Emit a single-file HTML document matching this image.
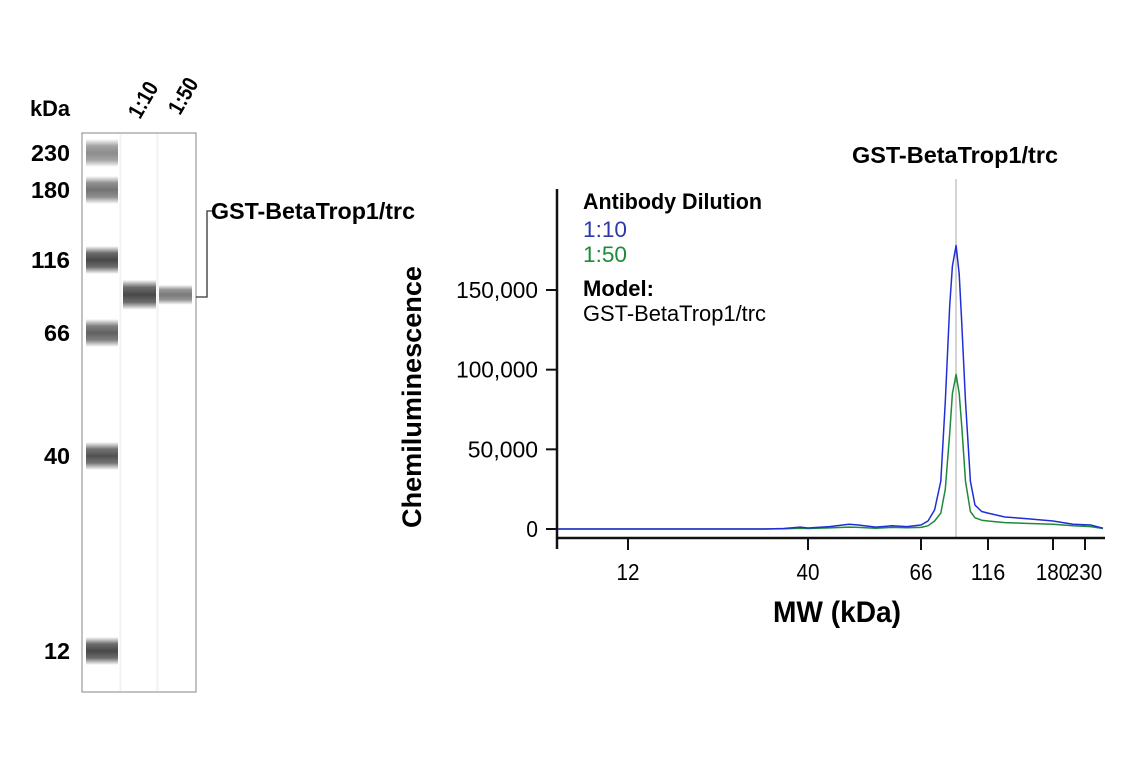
<!DOCTYPE html>
<html><head><meta charset="utf-8"><style>
body{margin:0;background:#fff;}
svg{display:block;font-family:"Liberation Sans",sans-serif;}
</style></head><body>
<svg id="fig" width="1141" height="768" viewBox="0 0 1141 768">
<defs>
<linearGradient id="bandG" x1="0" y1="0" x2="0" y2="1">
<stop offset="0" stop-color="#000" stop-opacity="0"/><stop offset="0.25" stop-color="#000" stop-opacity="0.8"/><stop offset="0.5" stop-color="#000" stop-opacity="1"/><stop offset="0.75" stop-color="#000" stop-opacity="0.8"/><stop offset="1" stop-color="#000" stop-opacity="0"/>
</linearGradient>
</defs>
<g id="gel">
<text x="30" y="116" font-size="22" font-weight="bold" textLength="40" lengthAdjust="spacingAndGlyphs">kDa</text>
<text transform="translate(140,120) rotate(-60)" font-size="22" font-weight="bold" textLength="38" lengthAdjust="spacingAndGlyphs">1:10</text>
<text transform="translate(180,116) rotate(-60)" font-size="22" font-weight="bold" textLength="38" lengthAdjust="spacingAndGlyphs">1:50</text>
<rect x="82" y="133" width="114" height="559" fill="#fff" stroke="#999" stroke-width="1.2"/>
<line x1="120.5" y1="134" x2="120.5" y2="691" stroke="#f2f2f2" stroke-width="2"/>
<line x1="157.5" y1="134" x2="157.5" y2="691" stroke="#f2f2f2" stroke-width="2"/>
<g id="ladder"></g>
<g id="samples"></g>
<polyline points="196,297 207,297 207,211 212,211" fill="none" stroke="#333" stroke-width="1.3"/>
<text x="211" y="219" font-size="23" font-weight="bold" textLength="204" lengthAdjust="spacingAndGlyphs">GST-BetaTrop1/trc</text>
</g>
<g id="chart">
<text transform="translate(421,397) rotate(-90)" text-anchor="middle" font-size="27" font-weight="bold" textLength="262" lengthAdjust="spacingAndGlyphs">Chemiluminescence</text>
<text x="837" y="622" text-anchor="middle" font-size="30" font-weight="bold" textLength="128" lengthAdjust="spacingAndGlyphs">MW (kDa)</text>
<text x="955" y="163" text-anchor="middle" font-size="23" font-weight="bold" textLength="206" lengthAdjust="spacingAndGlyphs">GST-BetaTrop1/trc</text>
<line x1="956" y1="179" x2="956" y2="538" stroke="#aaa" stroke-width="1"/>
<g id="yticks"></g>
<g id="xticks"></g>
<g id="series"></g>
<line x1="557" y1="189" x2="557" y2="549" stroke="#111" stroke-width="2.5"/>
<line x1="556" y1="538" x2="1105" y2="538" stroke="#111" stroke-width="2.5"/>
<g>
<text x="583" y="209" font-size="22" font-weight="bold" textLength="179" lengthAdjust="spacingAndGlyphs">Antibody Dilution</text>
<text x="583" y="237" font-size="22" fill="#2b3aa8" textLength="44" lengthAdjust="spacingAndGlyphs">1:10</text>
<text x="583" y="262" font-size="22" fill="#1e8a3a" textLength="44" lengthAdjust="spacingAndGlyphs">1:50</text>
<text x="583" y="296" font-size="22" font-weight="bold" textLength="71" lengthAdjust="spacingAndGlyphs">Model:</text>
<text x="583" y="321" font-size="22" textLength="183" lengthAdjust="spacingAndGlyphs">GST-BetaTrop1/trc</text>
</g>
</g>
</svg>
<script>
const NS="http://www.w3.org/2000/svg";
const ladderKDa=[230,180,116,66,40,12];
const ladderY=[153,190,260,333,456,651];
const ladderAlpha=[0.45,0.55,0.72,0.62,0.68,0.72];
const laneBand=[88.7,88.7];
const laneAlpha=[0.72,0.52];
const yTicks=[0,50000,100000,150000];
const yTickLabels=["0","50,000","100,000","150,000"];
const xTicks=[12,40,66,116,180,230];
const xTickLabels=["12","40","66","116","180","230"];
const mw=[5,20,30,34,38,40,44,48,50,54,58,62,66,70,74,78,81,84,86,88.7,91,93,96,100,104,110,116,130,150,180,210,240,300];
const blue=[0,0,0,300,1200,600,1500,3000,2500,1200,2000,1500,2500,5000,12000,30000,80000,140000,165000,178000,160000,130000,80000,30000,15000,11000,10000,7500,6500,5000,3000,2500,500];
const green=[0,0,0,100,500,300,700,1200,1000,500,1000,800,1000,2000,5000,10000,25000,60000,85000,97000,85000,65000,30000,11000,7000,5500,5000,4000,3500,3000,2000,1500,300];
function yScale(v){return 529-v*(239/150000);}
const calK=[12,40,66,116,180,230], calP=[628,808,921,988,1053,1085];
function xScale(k){const l=Math.log(k);let i=0;
 if(k<=calK[0])i=0;else if(k>=calK[calK.length-1])i=calK.length-2;else{while(k>calK[i+1])i++;}
 const a=Math.log(calK[i]),b=Math.log(calK[i+1]);return calP[i]+(l-a)/(b-a)*(calP[i+1]-calP[i]);}
function gelY(k){const l=Math.log(k);let i=0;while(i<ladderKDa.length-2&&k<ladderKDa[i+1])i++;
 const a=Math.log(ladderKDa[i]),b=Math.log(ladderKDa[i+1]);return ladderY[i]+(l-a)/(b-a)*(ladderY[i+1]-ladderY[i]);}
function narrow(t,w){t.setAttribute('textLength',w);t.setAttribute('lengthAdjust','spacingAndGlyphs');}
const lad=document.getElementById('ladder');
ladderKDa.forEach((k,i)=>{
 const r=document.createElementNS(NS,'rect');
 r.setAttribute('x',86);r.setAttribute('y',ladderY[i]-14);r.setAttribute('width',32);r.setAttribute('height',28);
 r.setAttribute('fill','url(#bandG)');r.setAttribute('opacity',ladderAlpha[i]);
 
 
 lad.appendChild(r);
 const t=document.createElementNS(NS,'text');
 t.setAttribute('x',70);t.setAttribute('y',ladderY[i]+8);t.setAttribute('text-anchor','end');
 t.setAttribute('font-size','23');t.setAttribute('font-weight','bold');t.textContent=k;
 narrow(t,String(k).length*13);
 
 
 lad.appendChild(t);
});
const sm=document.getElementById('samples');
laneBand.forEach((k,i)=>{
 const h=i===0?30:20;
 const r=document.createElementNS(NS,'rect');
 r.setAttribute('x',i===0?123:159);r.setAttribute('y',gelY(k)-h/2);r.setAttribute('width',33);r.setAttribute('height',h);
 r.setAttribute('fill','url(#bandG)');r.setAttribute('opacity',laneAlpha[i]);
 
 
 sm.appendChild(r);
});
const yt=document.getElementById('yticks');
yTicks.forEach((v,i)=>{
 const y=yScale(v);
 const l=document.createElementNS(NS,'line');
 l.setAttribute('x1',546);l.setAttribute('x2',557);l.setAttribute('y1',y);l.setAttribute('y2',y);
 l.setAttribute('stroke','#111');l.setAttribute('stroke-width','2');
 
 
 yt.appendChild(l);
 const t=document.createElementNS(NS,'text');
 t.setAttribute('x',538);t.setAttribute('y',y+8);t.setAttribute('text-anchor','end');t.setAttribute('font-size','23');
 t.textContent=yTickLabels[i];
 narrow(t,yTickLabels[i].length*11.7);
 
 
 yt.appendChild(t);
});
const xt=document.getElementById('xticks');
xTicks.forEach((k,i)=>{
 const x=xScale(k);
 const l=document.createElementNS(NS,'line');
 l.setAttribute('x1',x);l.setAttribute('x2',x);l.setAttribute('y1',538);l.setAttribute('y2',550);
 l.setAttribute('stroke','#111');l.setAttribute('stroke-width','2');
 
 
 xt.appendChild(l);
 const t=document.createElementNS(NS,'text');
 t.setAttribute('x',x);t.setAttribute('y',580);t.setAttribute('text-anchor','middle');t.setAttribute('font-size','23');
 t.textContent=xTickLabels[i];
 narrow(t,xTickLabels[i].length*11.5);
 
 
 xt.appendChild(t);
});
const se=document.getElementById('series');
function path(vals,color,name){
 const pts=mw.map((k,i)=>{let x=xScale(k);x=Math.max(557,Math.min(1103,x));return x.toFixed(1)+','+yScale(vals[i]).toFixed(1);});
 const p=document.createElementNS(NS,'polyline');
 p.setAttribute('points',pts.join(' '));p.setAttribute('fill','none');p.setAttribute('stroke',color);p.setAttribute('stroke-width','1.5');
 p.setAttribute('stroke-linejoin','round');
 
 
 se.appendChild(p);
}
path(green,'#1e8a3a','series-1-50');
path(blue,'#1f2fd6','series-1-10');
</script>
</body></html>
